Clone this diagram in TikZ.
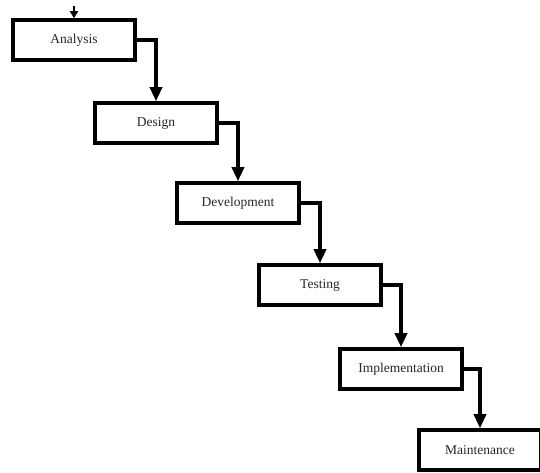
\documentclass[tikz,border=0pt]{standalone}
\usepackage{fontspec}
\setmainfont{Liberation Serif}
\usetikzlibrary{arrows.meta}
\tikzset{
  stage/.style={rectangle, draw, line width=3.6pt, minimum width=122pt, minimum height=40pt, inner sep=0pt, text=black!85, font=\fontsize{13.5}{15}\selectfont},
  flow/.style={line width=3.4pt, -{Triangle[width=12pt,length=14pt]}}
}

\begin{document}
\begin{tikzpicture}[x=1pt, y=-1pt]
  \useasboundingbox (0,0) rectangle (540,472);

  % Phases of the waterfall
  \node[stage] (analysis) at (74,40) {Analysis};
  \node[stage] (design) at (156,123) {Design};
  \node[stage] (development) at (238,203) {Development};
  \node[stage] (testing) at (320,285) {Testing};
  \node[stage] (implementation) at (401,369) {Implementation};
  \node[stage] (maintenance) at (480,450) {Maintenance};

  % Incoming arrow from above (only its tip shows)
  \coordinate (start) at (74,6);
  \draw[line width=2pt, -{Triangle[width=8pt,length=7pt]}] (start) -- (analysis.north);

  % Steps down the cascade
  \draw[flow] (analysis.east) -| (design.north);
  \draw[flow] (design.east) -| (development.north);
  \draw[flow] (development.east) -| (testing.north);
  \draw[flow] (testing.east) -| (implementation.north);
  \draw[flow] (implementation.east) -| (maintenance.north);

\end{tikzpicture}
\end{document}
